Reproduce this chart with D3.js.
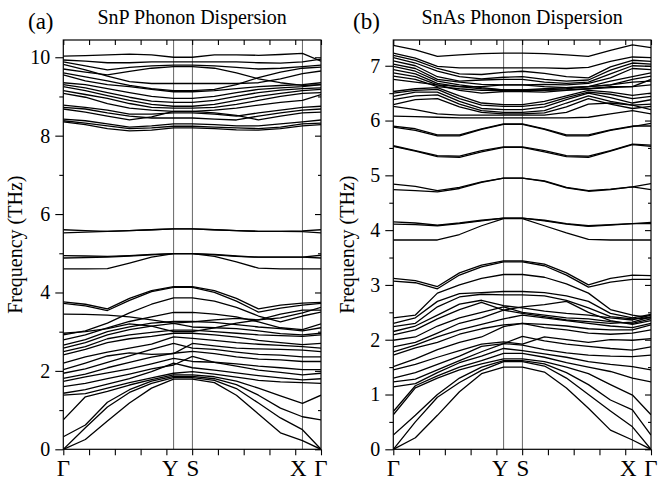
<!DOCTYPE html>
<html>
<head>
<meta charset="utf-8">
<script src="https://cdn.jsdelivr.net/npm/d3@7"></script>
<style>
  html, body { margin: 0; padding: 0; background: #fff; }
  svg { display: block; }
  text { font-family: "Liberation Serif", "Times New Roman", serif; fill: #000; }
</style>
</head>
<body>
<svg id="chart" width="660" height="481"></svg>
<script>
// k-path sample positions (fractional distance along Γ–Y–S–X–Γ)
const kPos = [0, 0.0856, 0.1712, 0.2568, 0.3424, 0.428, 0.501, 0.5864, 0.6718, 0.7572, 0.8426, 0.928, 1];
const kTicks = [0, 0.1, 0.2, 0.3, 0.4, 0.5, 0.6, 0.7, 0.8, 0.9, 1];
const symLines = [0.428, 0.501, 0.928];
const symLabels = ["Γ", "Y", "S", "X", "Γ"];
const symLabelPos = [0, 0.415, 0.503, 0.912, 1];

// SnP phonon branches (THz), one row per branch
const snpBands = [
  [10.03,10.04,10.06,10.08,10.06,10.00,10.00,10.06,10.06,10.05,10.07,10.10,9.90],
  [9.93,9.90,9.86,9.86,9.88,9.88,9.88,9.88,9.88,9.86,9.85,9.88,9.95],
  [9.88,9.78,9.68,9.74,9.78,9.80,9.80,9.78,9.74,9.70,9.72,9.76,9.80],
  [9.82,9.68,9.52,9.38,9.33,9.33,9.33,9.33,9.33,9.35,9.45,9.58,9.65],
  [9.70,9.62,9.55,9.64,9.72,9.76,9.76,9.72,9.60,9.45,9.35,9.28,9.30],
  [9.60,9.50,9.40,9.28,9.20,9.15,9.15,9.18,9.30,9.48,9.62,9.72,9.75],
  [9.55,9.40,9.30,9.25,9.18,9.12,9.12,9.15,9.20,9.25,9.28,9.30,9.35],
  [9.35,9.30,9.20,9.10,9.00,8.95,8.95,9.00,9.10,9.18,9.22,9.25,9.30],
  [9.30,9.22,9.10,8.98,8.88,8.85,8.85,8.90,9.00,9.10,9.16,9.20,9.22],
  [9.25,9.15,9.02,8.90,8.80,8.75,8.75,8.80,8.90,9.00,9.08,9.15,9.18],
  [9.15,9.05,8.95,8.82,8.72,8.70,8.70,8.72,8.80,8.90,9.00,9.08,9.10],
  [9.08,8.98,8.82,8.70,8.65,8.62,8.62,8.65,8.70,8.78,8.85,8.90,9.05],
  [8.78,8.72,8.65,8.55,8.55,8.58,8.58,8.55,8.50,8.58,8.65,8.72,8.75],
  [8.72,8.68,8.58,8.50,8.45,8.45,8.45,8.42,8.40,8.50,8.58,8.65,8.68],
  [8.68,8.60,8.50,8.40,8.48,8.62,8.62,8.58,8.52,8.40,8.50,8.58,8.60],
  [8.42,8.38,8.30,8.22,8.25,8.30,8.30,8.28,8.25,8.25,8.30,8.35,8.40],
  [8.38,8.32,8.25,8.18,8.20,8.24,8.24,8.22,8.20,8.18,8.22,8.30,8.32],
  [8.35,8.28,8.18,8.12,8.14,8.20,8.20,8.18,8.15,8.14,8.18,8.25,8.28],
  [5.60,5.58,5.56,5.58,5.60,5.62,5.62,5.60,5.58,5.56,5.56,5.57,5.60],
  [5.52,5.54,5.56,5.58,5.60,5.62,5.62,5.60,5.58,5.56,5.56,5.55,5.52],
  [4.94,4.93,4.92,4.94,4.97,4.99,4.99,4.97,4.93,4.90,4.90,4.90,4.95],
  [4.88,4.89,4.90,4.93,4.96,4.99,4.99,4.96,4.92,4.90,4.90,4.90,4.88],
  [4.60,4.60,4.61,4.75,4.90,4.99,4.99,4.92,4.78,4.62,4.60,4.60,4.60],
  [3.76,3.70,3.58,3.85,4.05,4.15,4.15,4.05,3.85,3.58,3.68,3.73,3.75],
  [3.72,3.66,3.54,3.80,4.02,4.13,4.13,4.00,3.78,3.50,3.60,3.68,3.72],
  [3.45,3.44,3.42,3.38,3.30,3.22,3.25,3.30,3.34,3.30,3.45,3.55,3.55],
  [2.96,3.00,3.08,3.20,3.14,3.00,3.00,3.10,3.22,3.30,3.35,3.48,3.62],
  [2.92,3.02,3.22,3.48,3.70,3.86,3.86,3.78,3.62,3.40,3.25,3.40,3.50],
  [2.79,2.92,3.10,3.26,3.38,3.49,3.49,3.45,3.38,3.25,3.10,3.05,3.20],
  [2.66,2.80,3.00,3.12,3.22,3.26,3.26,3.24,3.18,3.12,3.08,3.02,3.10],
  [2.58,2.72,2.92,3.05,3.14,3.21,3.12,3.10,3.08,3.02,2.95,2.92,2.96],
  [2.49,2.62,2.82,2.92,2.98,3.04,3.04,3.00,2.96,2.92,2.90,2.88,2.92],
  [2.41,2.55,2.72,2.82,2.88,2.96,2.96,2.92,2.86,2.78,2.72,2.67,2.70],
  [2.20,2.36,2.48,2.58,2.68,2.87,2.83,2.78,2.72,2.68,2.65,2.62,2.58],
  [2.03,2.20,2.38,2.46,2.42,2.44,2.70,2.64,2.58,2.56,2.55,2.53,2.49],
  [1.94,2.05,2.22,2.38,2.55,2.70,2.58,2.55,2.48,2.42,2.40,2.36,2.36],
  [1.81,1.92,2.08,2.22,2.35,2.45,2.50,2.44,2.36,2.30,2.28,2.24,2.24],
  [1.73,1.85,1.95,2.05,2.18,2.32,2.24,2.22,2.18,2.12,2.08,2.03,2.03],
  [1.60,1.68,1.80,1.92,2.05,2.15,2.37,2.22,2.12,2.02,1.96,1.90,1.94],
  [1.43,1.52,1.66,1.80,1.98,2.20,2.08,2.02,1.95,1.88,1.82,1.77,1.80],
  [1.38,1.42,1.56,1.70,1.82,1.94,1.98,1.92,1.84,1.76,1.72,1.70,1.68],
  [0.75,1.34,1.48,1.64,1.78,1.90,1.90,1.85,1.74,1.56,1.36,1.17,1.38],
  [0.32,0.62,1.20,1.52,1.74,1.86,1.86,1.80,1.65,1.38,1.05,0.83,0.75],
  [0,0.55,1.08,1.45,1.68,1.83,1.83,1.76,1.55,1.18,0.80,0.50,0],
  [0,0.25,0.72,1.18,1.56,1.79,1.79,1.70,1.38,0.90,0.42,0.22,0]
];

// SnAs phonon branches (THz), one row per branch
const snasBands = [
  [7.37,7.29,7.17,7.20,7.22,7.23,7.23,7.22,7.20,7.17,7.28,7.38,7.33],
  [7.23,7.14,6.99,6.96,6.96,6.96,6.96,6.96,6.95,6.97,7.08,7.16,7.15],
  [7.19,7.10,6.95,6.85,6.84,6.88,6.90,6.86,6.80,6.78,6.98,7.10,7.08],
  [7.15,7.05,6.90,6.80,6.76,6.79,6.80,6.75,6.72,6.74,6.92,7.05,7.03],
  [7.09,7.00,6.80,6.72,6.74,6.75,6.75,6.70,6.68,6.70,6.85,7.00,6.99],
  [7.03,6.95,6.75,6.70,6.66,6.65,6.65,6.66,6.65,6.68,6.78,6.95,6.93],
  [6.99,6.90,6.72,6.65,6.60,6.56,6.56,6.58,6.60,6.62,6.72,6.80,6.87],
  [6.93,6.85,6.68,6.62,6.58,6.56,6.56,6.56,6.58,6.62,6.65,6.75,6.81],
  [6.87,6.80,6.65,6.55,6.50,6.53,6.53,6.52,6.55,6.58,6.62,6.62,6.75],
  [6.81,6.75,6.62,6.58,6.55,6.55,6.55,6.55,6.56,6.58,6.60,6.62,6.65],
  [6.75,6.70,6.65,6.62,6.62,6.65,6.65,6.62,6.60,6.62,6.65,6.70,6.72],
  [6.53,6.58,6.60,6.45,6.32,6.29,6.29,6.35,6.45,6.55,6.52,6.46,6.50],
  [6.50,6.55,6.57,6.40,6.28,6.26,6.26,6.30,6.42,6.52,6.48,6.40,6.44],
  [6.44,6.52,6.52,6.35,6.22,6.20,6.20,6.25,6.38,6.50,6.42,6.32,6.38],
  [6.38,6.45,6.47,6.30,6.18,6.15,6.15,6.18,6.32,6.45,6.35,6.28,6.30],
  [6.29,6.38,6.40,6.25,6.15,6.12,6.12,6.14,6.25,6.40,6.30,6.22,6.26],
  [6.26,6.20,6.12,6.10,6.10,6.10,6.10,6.10,6.15,6.30,6.32,6.28,6.20],
  [6.08,6.07,6.06,6.05,6.05,6.05,6.05,6.05,6.05,6.06,6.12,6.18,6.12],
  [5.90,5.85,5.74,5.74,5.85,5.94,5.94,5.85,5.74,5.74,5.83,5.90,5.90],
  [5.88,5.82,5.72,5.72,5.84,5.93,5.93,5.84,5.72,5.72,5.82,5.89,5.95],
  [5.54,5.45,5.36,5.35,5.45,5.52,5.52,5.45,5.36,5.35,5.45,5.57,5.55],
  [5.53,5.44,5.34,5.33,5.43,5.51,5.51,5.43,5.34,5.33,5.44,5.56,5.53],
  [4.84,4.80,4.72,4.78,4.88,4.95,4.95,4.90,4.78,4.72,4.75,4.79,4.85],
  [4.74,4.72,4.70,4.76,4.87,4.95,4.95,4.89,4.77,4.71,4.74,4.79,4.74],
  [4.15,4.13,4.09,4.13,4.18,4.22,4.22,4.18,4.12,4.08,4.10,4.12,4.14],
  [4.11,4.10,4.08,4.12,4.17,4.22,4.22,4.17,4.11,4.07,4.09,4.12,4.12],
  [3.82,3.82,3.82,3.92,4.08,4.21,4.21,4.08,3.95,3.83,3.82,3.82,3.82],
  [3.12,3.08,2.97,3.22,3.36,3.44,3.44,3.38,3.22,3.00,3.12,3.18,3.17],
  [3.07,3.04,2.93,3.18,3.33,3.42,3.42,3.35,3.18,2.96,3.05,3.10,3.10],
  [2.40,2.45,2.85,3.00,3.12,3.19,3.19,3.14,3.02,2.85,2.55,2.45,2.40],
  [2.30,2.40,2.70,2.84,2.86,2.88,2.88,2.86,2.80,2.70,2.48,2.40,2.46],
  [2.24,2.30,2.60,2.78,2.83,2.82,2.82,2.80,2.72,2.58,2.42,2.38,2.40],
  [2.15,2.25,2.45,2.65,2.72,2.62,2.58,2.52,2.48,2.45,2.40,2.36,2.45],
  [2.09,2.18,2.38,2.55,2.68,2.54,2.48,2.42,2.36,2.33,2.30,2.32,2.42],
  [1.99,2.05,2.25,2.40,2.50,2.60,2.50,2.45,2.40,2.38,2.33,2.30,2.38],
  [1.87,1.95,2.12,2.30,2.40,2.54,2.60,2.64,2.70,2.50,2.35,2.28,2.35],
  [1.78,1.90,2.05,2.18,2.28,2.38,2.45,2.40,2.35,2.30,2.25,2.22,2.30],
  [1.72,1.85,1.95,2.10,2.20,2.27,2.30,2.28,2.25,2.20,2.18,2.18,2.27],
  [1.51,1.65,1.82,1.95,2.05,2.24,2.30,2.22,2.18,2.12,2.10,2.12,2.18],
  [1.45,1.55,1.68,1.80,1.92,1.96,1.92,2.05,2.00,1.95,2.00,1.99,2.02],
  [1.30,1.40,1.55,1.70,1.88,1.93,2.06,1.98,1.92,1.88,1.84,1.81,1.87],
  [1.23,1.28,1.45,1.62,1.78,1.93,1.90,1.82,1.76,1.72,1.70,1.69,1.72],
  [1.14,1.20,1.40,1.58,1.70,1.84,1.80,1.74,1.68,1.60,1.55,1.51,1.45],
  [0.69,1.16,1.34,1.50,1.62,1.75,1.75,1.68,1.58,1.50,1.42,1.30,1.23],
  [0.63,1.12,1.30,1.45,1.56,1.65,1.65,1.60,1.50,1.38,1.18,0.99,0.63],
  [0.26,0.62,1.00,1.30,1.50,1.62,1.62,1.56,1.40,1.18,0.90,0.72,0.26],
  [0,0.50,0.95,1.22,1.44,1.60,1.60,1.52,1.30,1.00,0.70,0.41,0],
  [0,0.21,0.62,1.05,1.38,1.50,1.50,1.41,1.12,0.75,0.35,0.17,0]
];

const snpMajor = [0, 2, 4, 6, 8, 10];
const snpMinor = [1, 3, 5, 7, 9];
const snasMajor = [0, 1, 2, 3, 4, 5, 6, 7];
const snasMinor = [0.5, 1.5, 2.5, 3.5, 4.5, 5.5, 6.5];

const panels = [
  { tag: "(a)", title: "SnP Phonon Dispersion", bands: snpBands, yMax: 10.44,
    major: snpMajor, minor: snpMinor, x0: 63.3, x1: 321, tagX: 28, yTitleX: 22 },
  { tag: "(b)", title: "SnAs Phonon Dispersion", bands: snasBands, yMax: 7.47,
    major: snasMajor, minor: snasMinor, x0: 393.3, x1: 651, tagX: 353, yTitleX: 354 }
];

const serif = '"Liberation Serif", "Times New Roman", serif';
const plotTop = 40, plotBottom = 449.3;
const svg = d3.select("#chart");

panels.forEach((p, i) => {
  const x = d3.scaleLinear().domain([0, 1]).range([p.x0, p.x1]);
  const y = d3.scaleLinear().domain([0, p.yMax]).range([plotBottom, plotTop]);
  const g = svg.append("g");

  const clipId = "clip" + i;
  g.append("clipPath").attr("id", clipId)
    .append("rect").attr("x", p.x0).attr("y", plotTop)
    .attr("width", p.x1 - p.x0).attr("height", plotBottom - plotTop);

  // high-symmetry point markers
  g.selectAll("line.sym").data(symLines).join("line")
    .attr("class", "sym")
    .attr("x1", d => x(d)).attr("x2", d => x(d))
    .attr("y1", plotTop).attr("y2", plotBottom)
    .attr("stroke", "#555").attr("stroke-width", 0.9);

  // phonon branches
  const line = d3.line().x((d, j) => x(kPos[j])).y(d => y(d));
  g.append("g").attr("clip-path", `url(#${clipId})`)
    .selectAll("path").data(p.bands).join("path")
    .attr("d", line)
    .attr("fill", "none").attr("stroke", "#000")
    .attr("stroke-width", 1.3).attr("stroke-linejoin", "round");

  // axes
  const styleAxis = sel => {
    sel.attr("font-family", null).attr("font-size", null);
    sel.select(".domain").remove();
    sel.selectAll("line").attr("stroke", "#000").attr("stroke-width", 1.1);
    sel.selectAll("text").style("font-size", "20px").style("font-family", serif);
  };
  g.append("g").attr("transform", `translate(${p.x0},0)`)
    .call(d3.axisLeft(y).tickValues(p.major).tickSize(8).tickPadding(5).tickFormat(d3.format("d")))
    .call(styleAxis);
  g.append("g").attr("transform", `translate(${p.x0},0)`)
    .call(d3.axisLeft(y).tickValues(p.minor).tickSize(4).tickFormat(""))
    .call(styleAxis);
  g.append("g").attr("transform", `translate(${p.x1},0)`)
    .call(d3.axisRight(y).tickValues(p.major).tickSize(-6).tickFormat(""))
    .call(styleAxis);
  g.append("g").attr("transform", `translate(${p.x1},0)`)
    .call(d3.axisRight(y).tickValues(p.minor).tickSize(-3).tickFormat(""))
    .call(styleAxis);
  g.append("g").attr("transform", `translate(0,${plotBottom})`)
    .call(d3.axisBottom(x).tickValues(kTicks).tickSize(6).tickFormat(""))
    .call(styleAxis);
  g.append("g").attr("transform", `translate(0,${plotTop})`)
    .call(d3.axisTop(x).tickValues(kTicks).tickSize(-5).tickFormat(""))
    .call(styleAxis);

  // frame
  g.append("rect").attr("x", p.x0).attr("y", plotTop)
    .attr("width", p.x1 - p.x0).attr("height", plotBottom - plotTop)
    .attr("fill", "none").attr("stroke", "#000").attr("stroke-width", 1.2);

  // high-symmetry labels
  g.selectAll("text.klabel").data(symLabels).join("text")
    .attr("class", "klabel")
    .attr("x", (d, j) => x(symLabelPos[j])).attr("y", 476)
    .attr("text-anchor", "middle")
    .style("font-size", "23px").style("font-family", serif)
    .text(d => d);

  // axis title
  g.append("text")
    .attr("transform", `translate(${p.yTitleX},${(plotTop + plotBottom) / 2}) rotate(-90)`)
    .attr("text-anchor", "middle")
    .style("font-size", "20px").style("font-family", serif)
    .text("Frequency (THz)");

  // panel tag and title
  g.append("text").attr("x", p.tagX).attr("y", 28.5)
    .style("font-size", "23px").style("font-family", serif).text(p.tag);
  g.append("text").attr("x", (p.x0 + p.x1) / 2).attr("y", 23.5)
    .attr("text-anchor", "middle")
    .style("font-size", "20px").style("font-family", serif).text(p.title);
});
</script>
</body>
</html>
